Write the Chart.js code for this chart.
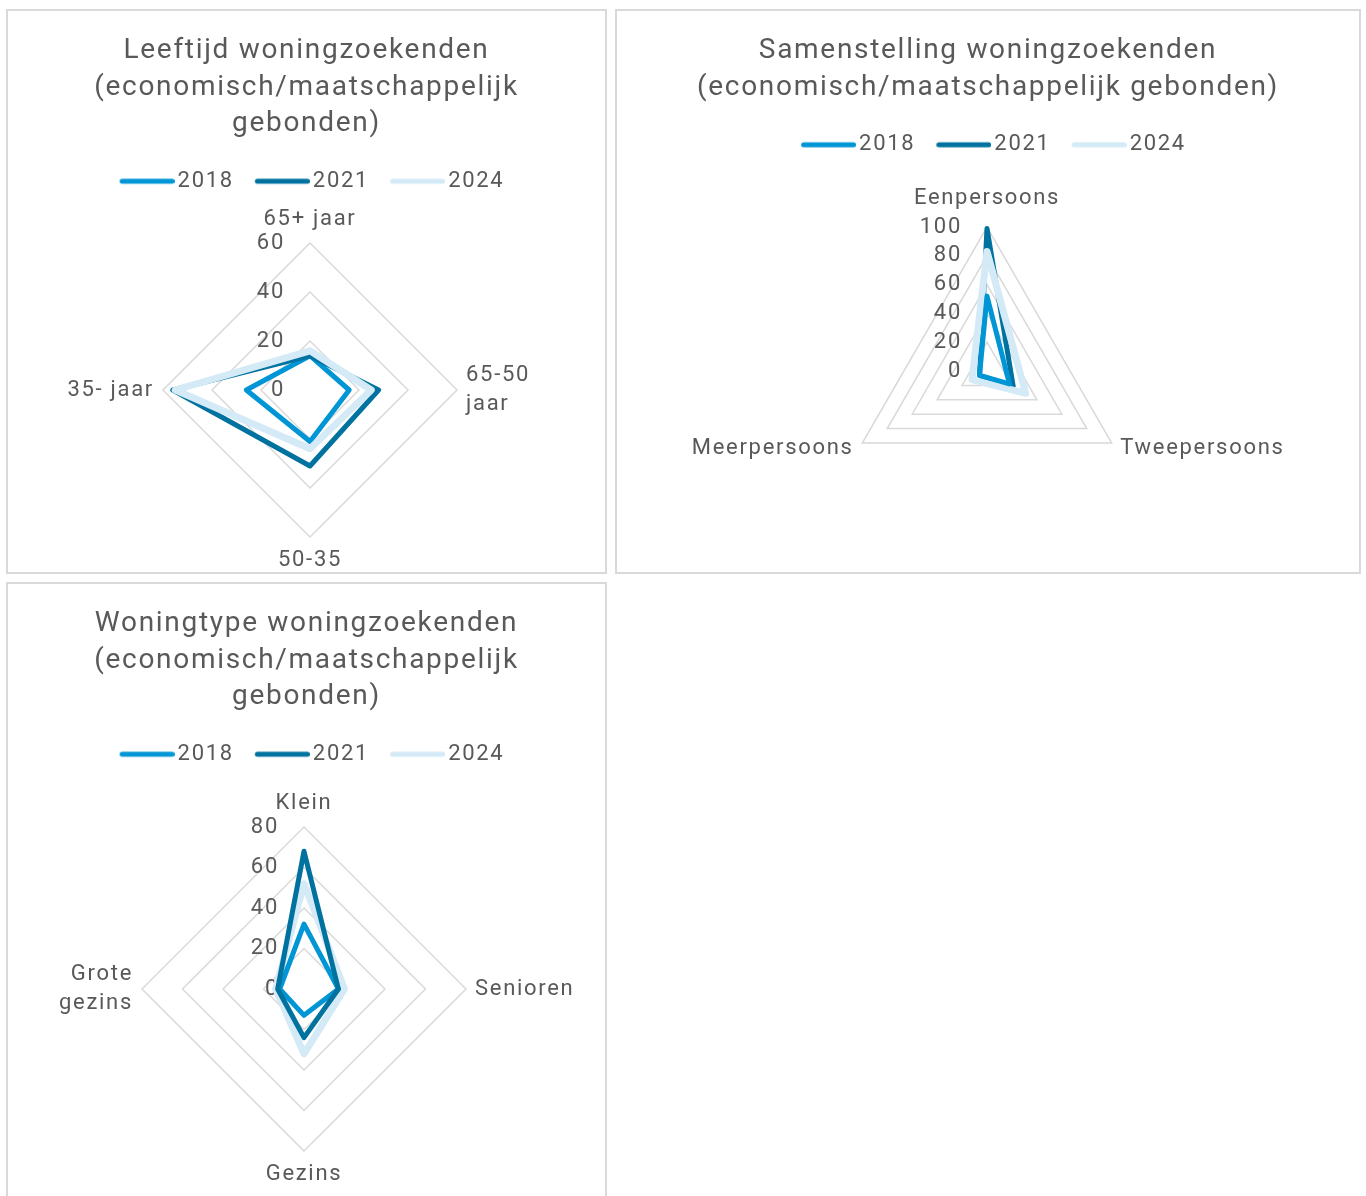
<!DOCTYPE html>
<html lang="nl">
<head>
<meta charset="utf-8">
<title>Woningzoekenden economisch/maatschappelijk gebonden</title>
<script src="https://cdn.jsdelivr.net/npm/chart.js@4.4.1/dist/chart.umd.min.js"></script>
<style>
  html, body { margin: 0; padding: 0; background: #fff; overflow: hidden; }
  body { width: 1366px; height: 1196px; position: relative; }
  .panel { position: absolute; box-sizing: border-box; border: 2px solid #d9d9d9; background: #fff; }
  .panel canvas { display: block; }
  #p1 { left: 6px; top: 9px; width: 601px; height: 565px; }
  #p2 { left: 615px; top: 9px; width: 746px; height: 565px; }
  #p3 { left: 6px; top: 582px; width: 601px; height: 640px; }
</style>
</head>
<body>
<div class="panel" id="p1"><canvas id="leeftijd" width="597" height="561"></canvas></div>
<div class="panel" id="p2"><canvas id="samenstelling" width="742" height="561"></canvas></div>
<div class="panel" id="p3"><canvas id="woningtype" width="597" height="636"></canvas></div>
<script>
// Jaren (series)
const years = ['2018', '2021', '2024'];

// Leeftijd woningzoekenden
const leeftijdLabels = ['65+ jaar', ['65-50', 'jaar'], '50-35', '35- jaar'];
const leeftijd2018 = [14, 16, 21, 26];
const leeftijd2021 = [14, 28, 31, 56];
const leeftijd2024 = [16, 25, 24, 55];
const leeftijdTicks = [0, 20, 40, 60];

// Samenstelling woningzoekenden
const samenstellingLabels = ['Eenpersoons', 'Tweepersoons', 'Meerpersoons'];
const samenstelling2018 = [52, 18, 6];
const samenstelling2021 = [99, 21, 6];
const samenstelling2024 = [83, 31, 12];
const samenstellingTicks = [0, 20, 40, 60, 80, 100];

// Woningtype woningzoekenden
const woningtypeLabels = ['Klein', 'Senioren', 'Gezins', ['Grote', 'gezins']];
const woningtype2018 = [32, 17, 13, 12];
const woningtype2021 = [68, 17, 24, 13];
const woningtype2024 = [52, 20, 32, 14];
const woningtypeTicks = [0, 20, 40, 60, 80];

const textColor = '#595959';
const lineColors = ['#0096d6', '#00729f', '#d4eaf6'];
const lineWidths = [5, 5, 7];

Chart.defaults.font.family = 'Roboto';
Chart.defaults.color = textColor;

// Lijnstukje voor de legenda (lange lijn met ronde uiteinden, tekst er vlak achter)
function lineSwatch(color, width) {
    const c = document.createElement('canvas');
    c.width = 74;
    c.height = 8;
    const g = c.getContext('2d');
    g.strokeStyle = color;
    g.lineWidth = width;
    g.lineCap = 'round';
    g.beginPath();
    g.moveTo(21.5, 4);
    g.lineTo(71.5, 4);
    g.stroke();
    return c;
}
const swatches = lineColors.map(c => lineSwatch(c, 5));

// Wat ruimere letterafstand, zoals het origineel
const spacingPlugin = {
    id: 'spacing',
    beforeUpdate(chart) { chart.ctx.letterSpacing = '1.7px'; },
    beforeDraw(chart) { chart.ctx.letterSpacing = '1.7px'; }
};

// Schaalwaarden links naast de bovenste as
const tickLabelPlugin = {
    id: 'tickLabels',
    beforeDatasetsDraw(chart) {
        const scale = chart.scales.r;
        const ctx = chart.ctx;
        ctx.save();
        ctx.font = '22px Roboto';
        ctx.fillStyle = textColor;
        ctx.textAlign = 'right';
        ctx.textBaseline = 'middle';
        scale.ticks.forEach(tick => {
            const pos = scale.getPointPositionForValue(0, tick.value);
            ctx.fillText(String(tick.value), pos.x - 25, pos.y);
        });
        ctx.restore();
    }
};

// Middelpunt en straal van het web vastzetten
function placeScale(cx, cy, radius) {
    return function (scale) {
        // ruime grenzen, zodat de aslabels het web niet kleiner maken
        scale.left = -500;
        scale.top = -500;
        scale.right = scale.chart.width + 500;
        scale.bottom = scale.chart.height + 500;
        scale.xCenter = cx;
        scale.yCenter = cy;
        scale.drawingArea = radius;
    };
}

function radarChart(id, titleLines, labels, values, ticks, orders, labelPad, labelFont, geom) {
    const ctx = document.getElementById(id).getContext('2d');
    return new Chart(ctx, {
        type: 'radar',
        data: {
            labels: labels,
            datasets: years.map((year, i) => ({
                label: year,
                data: values[i],
                borderColor: lineColors[i],
                backgroundColor: lineColors[i],
                borderWidth: lineWidths[i],
                fill: false,
                order: orders[i]
            }))
        },
        options: {
            responsive: false,
            animation: false,
            events: [],
            layout: { padding: 0 },
            elements: {
                line: { tension: 0, borderJoinStyle: 'round', borderCapStyle: 'round' },
                point: { radius: 0, hoverRadius: 0 }
            },
            plugins: {
                title: {
                    display: true,
                    text: titleLines,
                    color: textColor,
                    font: { size: 28, weight: 'normal', lineHeight: 1.3 },
                    padding: { top: 22, bottom: 18 }
                },
                legend: {
                    display: true,
                    position: 'top',
                    labels: {
                        usePointStyle: true,
                        pointStyleWidth: 58,
                        padding: 10,
                        color: textColor,
                        font: { size: 22 },
                        sort: (a, b) => a.datasetIndex - b.datasetIndex,
                        generateLabels(chart) {
                            return Chart.defaults.plugins.legend.labels.generateLabels(chart).map(item => {
                                item.pointStyle = swatches[item.datasetIndex];
                                return item;
                            });
                        }
                    }
                },
                tooltip: { enabled: false }
            },
            scales: {
                r: {
                    min: ticks[0],
                    max: ticks[ticks.length - 1],
                    ticks: { display: false, stepSize: ticks[1] - ticks[0] },
                    grid: { color: '#d9d9d9', lineWidth: 1.5 },
                    angleLines: { display: false },
                    pointLabels: {
                        color: textColor,
                        font: labelFont,
                        padding: labelPad
                    },
                    afterSetDimensions: placeScale(geom[0], geom[1], geom[2])
                }
            }
        },
        plugins: [spacingPlugin, tickLabelPlugin]
    });
}

const normalFont = { size: 22, lineHeight: 1.36 };

radarChart('leeftijd',
    ['Leeftijd woningzoekenden', '(economisch/maatschappelijk', 'gebonden)'],
    leeftijdLabels, [leeftijd2018, leeftijd2021, leeftijd2024], leeftijdTicks,
    [3, 2, 1], 9, normalFont, [302, 379, 147]);

// onderste labels staan in het origineel op hoogte van de hoekpunten
radarChart('samenstelling',
    ['Samenstelling woningzoekenden', '(economisch/maatschappelijk gebonden)'],
    samenstellingLabels, [samenstelling2018, samenstelling2021, samenstelling2024], samenstellingTicks,
    [1, 3, 2],
    c => (c.index === 0 ? 14 : 10),
    c => ({ size: 22, lineHeight: c.index === 0 ? 1.36 : 0 }),
    [370, 360, 144]);

radarChart('woningtype',
    ['Woningtype woningzoekenden', '(economisch/maatschappelijk', 'gebonden)'],
    woningtypeLabels, [woningtype2018, woningtype2021, woningtype2024], woningtypeTicks,
    [2, 1, 3], 9, normalFont, [296, 405, 162]);
</script>
</body>
</html>
